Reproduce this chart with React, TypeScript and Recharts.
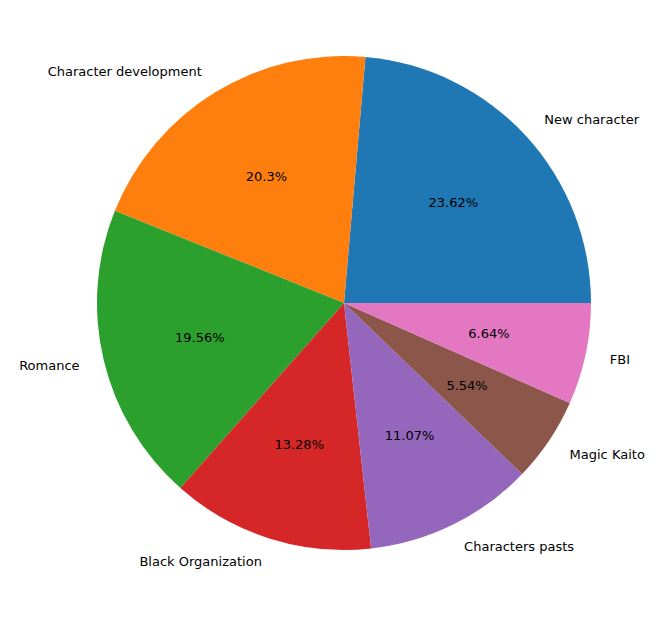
import { PieChart, Pie, Cell } from 'recharts';

const categories = ['New character', 'Character development', 'Romance', 'Black Organization', 'Characters pasts', 'Magic Kaito', 'FBI'];
const shares = [23.62, 20.3, 19.56, 13.28, 11.07, 5.54, 6.64];
const colors = ['#1f77b4', '#ff7f0e', '#2ca02c', '#d62728', '#9467bd', '#8c564b', '#e377c2'];

const data = categories.map((name, i) => ({ name, value: shares[i] }));
const RAD = Math.PI / 180;

function renderLabel(props: any) {
  const { cx, cy, midAngle, outerRadius, name, value } = props;
  const c = Math.cos(-midAngle * RAD);
  const s = Math.sin(-midAngle * RAD);
  const ox = cx + outerRadius * 1.1 * c;
  const oy = cy + outerRadius * 1.1 * s;
  const ix = cx + outerRadius * 0.6 * c;
  const iy = cy + outerRadius * 0.6 * s;
  return (
    <g>
      <text x={ox} y={oy} textAnchor={c >= 0 ? 'start' : 'end'} dominantBaseline="central" fill="#000" fontSize={13}>
        {name}
      </text>
      <text x={ix} y={iy} textAnchor="middle" dominantBaseline="central" fill="#000" fontSize={13}>
        {value}%
      </text>
    </g>
  );
}

export default function App() {
  return (
    <div style={{ position: 'absolute', left: 0, top: 0, fontFamily: 'DejaVu Sans' }}>
      <PieChart width={656} height={617}>
        <Pie
          data={data}
          dataKey="value"
          cx={339}
          cy={298}
          outerRadius={247}
          startAngle={0}
          endAngle={360}
          stroke="none"
          labelLine={false}
          label={renderLabel}
          isAnimationActive={false}
        >
          {data.map((d, i) => (
            <Cell key={d.name} fill={colors[i]} />
          ))}
        </Pie>
      </PieChart>
    </div>
  );
}
